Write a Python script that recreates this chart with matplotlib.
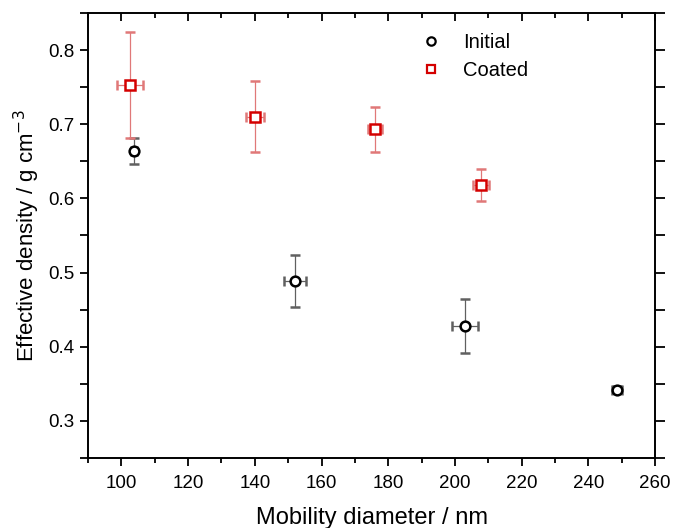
import matplotlib
matplotlib.use("Agg")
import matplotlib.pyplot as plt
from matplotlib.ticker import MultipleLocator
from matplotlib.lines import Line2D

plt.rcParams["font.family"] = ["Liberation Sans", "DejaVu Sans"]

# ---------------- Data ----------------
init_x = [103.8, 152.0, 203.0, 248.6]
init_y = [0.664, 0.489, 0.428, 0.342]
init_xerr = [1.0, 3.3, 3.9, 1.5]
init_yerr = [0.018, 0.035, 0.036, 0.005]

coat_x = [102.5, 140.1, 176.0, 207.8]
coat_y = [0.753, 0.710, 0.693, 0.618]
coat_xerr = [3.9, 2.8, 2.0, 2.3]
coat_yerr = [0.072, 0.048, 0.030, 0.021]

fig = plt.figure(figsize=(6.73, 5.28), dpi=100)
ax = fig.add_axes([0.1308, 0.1326, 0.8425, 0.8428])

ax.errorbar(init_x, init_y, xerr=init_xerr, yerr=init_yerr, fmt="o",
            ms=7, mfc="white", mec="black", mew=1.8,
            ecolor="#606060", elinewidth=0.9, capsize=3.5, capthick=0.9,
            zorder=3)
ax.errorbar(coat_x, coat_y, xerr=coat_xerr, yerr=coat_yerr, fmt="s",
            ms=6.5, mfc="white", mec="#d40000", mew=1.8,
            ecolor="#e07878", elinewidth=0.9, capsize=3.5, capthick=0.9,
            zorder=3)

ax.set_xlim(90, 260)
ax.set_ylim(0.25, 0.85)
ax.xaxis.set_major_locator(MultipleLocator(20))
ax.xaxis.set_minor_locator(MultipleLocator(10))
ax.yaxis.set_minor_locator(MultipleLocator(0.05))
ax.set_yticks([0.3, 0.4, 0.5, 0.6, 0.7, 0.8])

for s in ax.spines.values():
    s.set_linewidth(1.4)

ax.tick_params(axis="x", which="major", direction="out", length=6, width=1.3,
               labelsize=13.5, pad=6, top=True)
ax.tick_params(axis="x", which="minor", direction="out", length=3.5, width=1.3, top=True)
ax.tick_params(axis="y", which="both", direction="out", length=6, width=1.3,
               labelsize=13.5, right=True)
# mirrored ticks point inward on top/right
for t in ax.xaxis.get_major_ticks() + ax.xaxis.get_minor_ticks():
    t.tick2line.set_marker(3)
for t in ax.yaxis.get_major_ticks() + ax.yaxis.get_minor_ticks():
    t.tick2line.set_marker(1)
    t.tick2line.set_markersize(7)

ax.set_xlabel("Mobility diameter / nm", fontsize=17, labelpad=11)
ax.set_ylabel("Effective density / g cm$^{-3}$", fontsize=16, labelpad=5)

handles = [
    Line2D([], [], ls="none", marker="o", ms=6, mfc="white", mec="black", mew=1.6),
    Line2D([], [], ls="none", marker="s", ms=5.5, mfc="white", mec="#d40000", mew=1.6),
]
ax.legend(handles, ["Initial", "Coated"], loc="upper left",
          bbox_to_anchor=(0.552, 0.995), frameon=False, fontsize=14.5,
          handletextpad=1.0, labelspacing=0.45, handlelength=1.2)

fig.savefig("out.png", dpi=100)
